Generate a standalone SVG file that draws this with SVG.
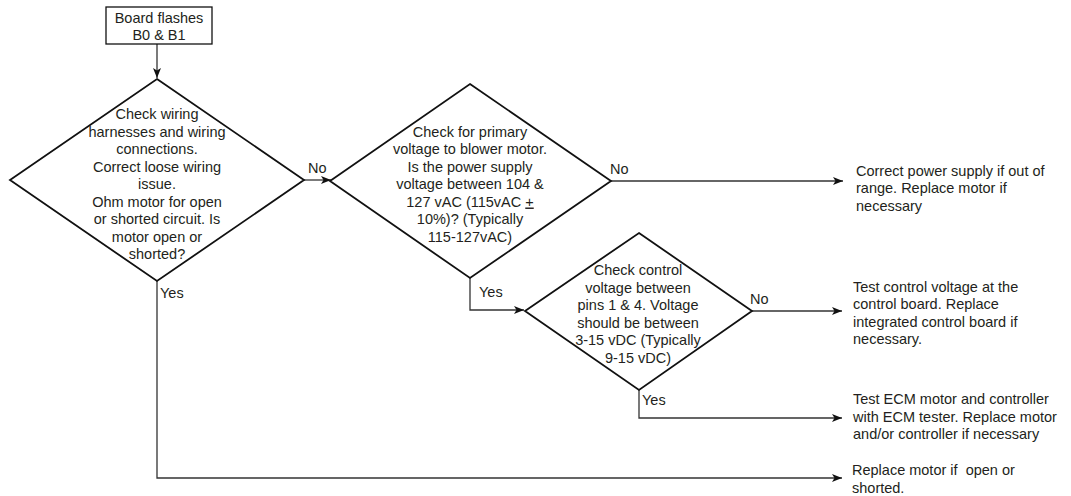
<svg xmlns="http://www.w3.org/2000/svg" width="1071" height="496" viewBox="0 0 1071 496">
<style>
text{font-family:"Liberation Sans",Arial,sans-serif;font-size:14.5px;fill:#231f20}
.c{text-anchor:middle}
.shape{fill:#fff;stroke:#111;stroke-width:1.8}
.box{fill:#fff;stroke:#111;stroke-width:1.3}
.conn{fill:none;stroke:#333;stroke-width:1.3}
</style>
<defs>
<marker id="ah" viewBox="0 0 10 8" refX="10" refY="4" markerWidth="10" markerHeight="8" markerUnits="userSpaceOnUse" orient="auto">
<path d="M0,0 L10,4 L0,8 L2.5,4 Z" fill="#111"/>
</marker>
</defs>
<g id="connectors">
<path class="conn" d="M157,44 V78" marker-end="url(#ah)"/>
<path class="conn" d="M304,180 H331" marker-end="url(#ah)"/>
<path class="conn" d="M611,181 H843" marker-end="url(#ah)"/>
<path class="conn" d="M470,278 V310 H524" marker-end="url(#ah)"/>
<path class="conn" d="M752,311 H842" marker-end="url(#ah)"/>
<path class="conn" d="M639,390 V418 H842" marker-end="url(#ah)"/>
<path class="conn" d="M157,281 V478 H842" marker-end="url(#ah)"/>
<text x="308" y="173">No</text>
<text x="610" y="174">No</text>
<text x="479" y="297">Yes</text>
<text x="750" y="304">No</text>
<text x="642" y="405">Yes</text>
<text x="160" y="298">Yes</text>
</g>
<g id="start">
<rect class="box" x="106" y="7" width="106" height="37"/>
<text class="c" x="159" y="23">Board flashes</text>
<text class="c" x="159" y="40">B0 &amp; B1</text>
</g>
<g id="d1">
<polygon class="shape" points="157,79 304,180 157,281 10,180"/>
<text class="c" x="157" y="119">Check wiring</text>
<text class="c" x="157" y="136.5">harnesses and wiring</text>
<text class="c" x="157" y="154">connections.</text>
<text class="c" x="157" y="171.5">Correct loose wiring</text>
<text class="c" x="157" y="189">issue.</text>
<text class="c" x="157" y="206.5">Ohm motor for open</text>
<text class="c" x="157" y="224">or shorted circuit. Is</text>
<text class="c" x="157" y="241.5">motor open or</text>
<text class="c" x="157" y="259">shorted?</text>
</g>
<g id="d2">
<polygon class="shape" points="470,84 611,181 470,278 330,181"/>
<text class="c" x="470" y="136.5">Check for primary</text>
<text class="c" x="470" y="154">voltage to blower motor.</text>
<text class="c" x="470" y="171.5">Is the power supply</text>
<text class="c" x="470" y="189">voltage between 104 &amp;</text>
<text class="c" x="470" y="206.5">127 vAC (115vAC <tspan text-decoration="underline">+</tspan></text>
<text class="c" x="470" y="224">10%)? (Typically</text>
<text class="c" x="470" y="241.5">115-127vAC)</text>
</g>
<g id="d3">
<polygon class="shape" points="639,233 752,311 639,390 525,311"/>
<text class="c" x="638" y="275">Check control</text>
<text class="c" x="638" y="292.5">voltage between</text>
<text class="c" x="638" y="310">pins 1 &amp; 4. Voltage</text>
<text class="c" x="638" y="327.5">should be between</text>
<text class="c" x="638" y="345">3-15 vDC (Typically</text>
<text class="c" x="638" y="362.5">9-15 vDC)</text>
</g>
<g id="r1">
<text x="856" y="175.5">Correct power supply if out of</text>
<text x="856" y="193">range. Replace motor if</text>
<text x="856" y="210.5">necessary</text>
</g>
<g id="r2">
<text x="853" y="291.5">Test control voltage at the</text>
<text x="853" y="309">control board. Replace</text>
<text x="853" y="326.5">integrated control board if</text>
<text x="853" y="344">necessary.</text>
</g>
<g id="r3">
<text x="853" y="404">Test ECM motor and controller</text>
<text x="853" y="421.5">with ECM tester. Replace motor</text>
<text x="853" y="439">and/or controller if necessary</text>
</g>
<g id="r4">
<text x="852" y="475" xml:space="preserve">Replace motor if  open or</text>
<text x="852" y="492.5">shorted.</text>
</g>
</svg>
